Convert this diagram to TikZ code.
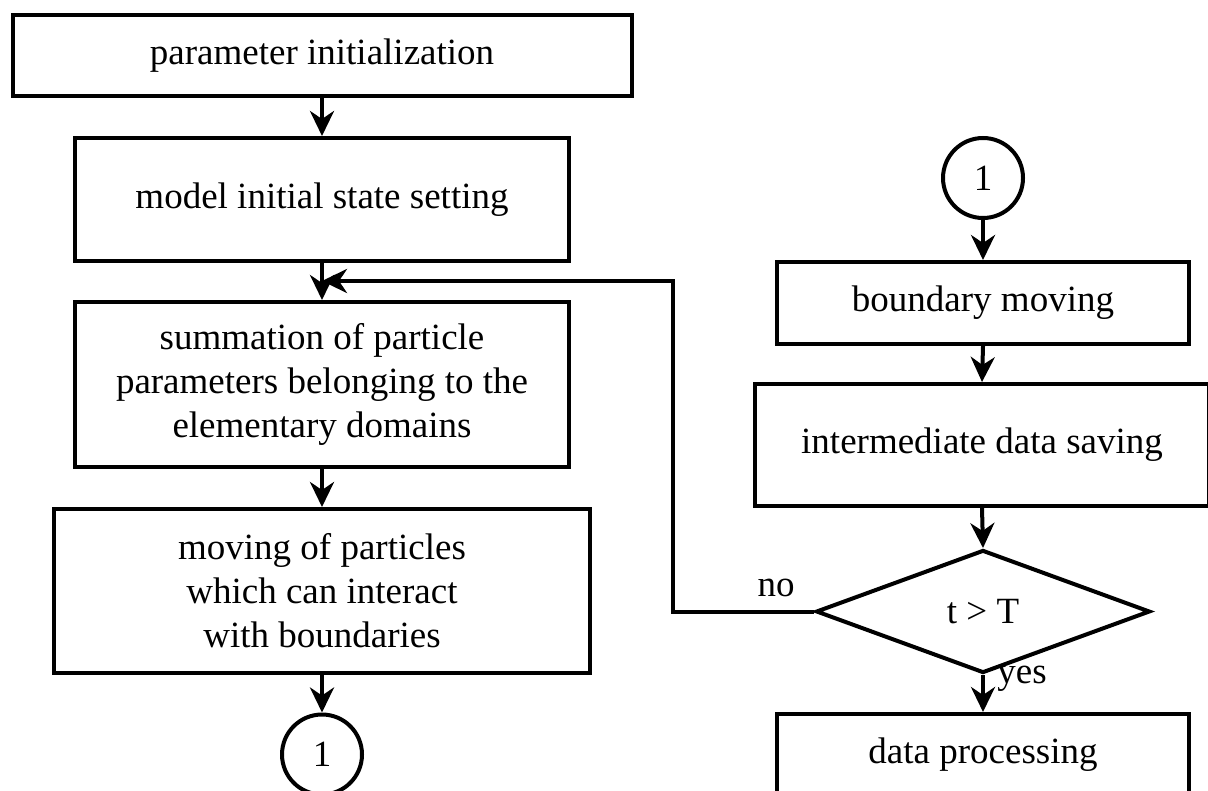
\documentclass[tikz,border=0pt]{standalone}
\usepackage{fontspec}
\setmainfont{Liberation Serif}
\usetikzlibrary{arrows.meta,shapes.geometric}

\tikzset{
  blk/.style={draw, line width=2pt, rectangle, inner sep=0pt, align=center,
    font=\fontsize{18.5}{22}\selectfont},
  conncircle/.style={draw, line width=2pt, circle, inner sep=0pt,
    minimum size=40pt, font=\fontsize{18.5}{22}\selectfont},
  decision/.style={draw, line width=2pt, diamond, inner sep=0pt,
    font=\fontsize{18.5}{22}\selectfont},
  lbl/.style={inner sep=0pt, font=\fontsize{18.5}{22}\selectfont},
  conn/.style={line width=2pt, -{Stealth[length=12.5pt,width=12pt,inset=4pt]}},
}

\begin{document}
\begin{tikzpicture}[x=0.5pt,y=-0.5pt]
  \useasboundingbox (0,0) rectangle (1208,791);

  % left column
  \node[blk, minimum width=309.5pt, minimum height=40.75pt] (init) at (322,55.3)
    {parameter initialization};
  \node[blk, minimum width=247pt, minimum height=61.5pt] (state) at (322,199.5)
    {model initial state setting};
  \node[blk, minimum width=247pt, minimum height=82.5pt] (sum) at (322,384.5)
    {summation of particle\\parameters belonging to the\\elementary domains};
  \node[blk, minimum width=268pt, minimum height=82pt] (move) at (322,591)
    {moving of particles\\which can interact\\with boundaries};
  \node[conncircle] (outc) at (322,754.5) {1};

  % right column
  \node[conncircle] (inc) at (983,178) {1};
  \node[blk, minimum width=206pt, minimum height=41pt] (bound) at (983,303)
    {boundary moving};
  \node[blk, minimum width=227pt, minimum height=61pt] (save) at (982,445)
    {intermediate data saving};
  \node[decision, minimum width=167pt, minimum height=61.5pt] (test) at (983,611.5)
    {t > T};
  \node[blk, minimum width=206pt, minimum height=41pt] (proc) at (983,755)
    {data processing};

  % branch labels
  \node[lbl] (nolbl) at (776,588) {no};
  \node[lbl] (yeslbl) at (1022,679) {yes};

  % loop-back points
  \coordinate (loopcorner) at (672.7,281);
  \coordinate (merge) at (322,281);

  % connectors
  \draw[conn] (init.south) -- (state.north);
  \draw[conn] (state.south) -- (sum.north);
  \draw[conn] (sum.south) -- (move.north);
  \draw[conn] (move.south) -- (outc.north);

  \draw[conn] (inc.south) -- (bound.north);
  \draw[conn] (bound.south) -- (save.north);
  \draw[conn] (save.south) -- (test.north);
  \draw[conn] (test.south) -- (proc.north);

  \draw[conn] (test.west) -| (loopcorner) -- (merge);
\end{tikzpicture}
\end{document}
